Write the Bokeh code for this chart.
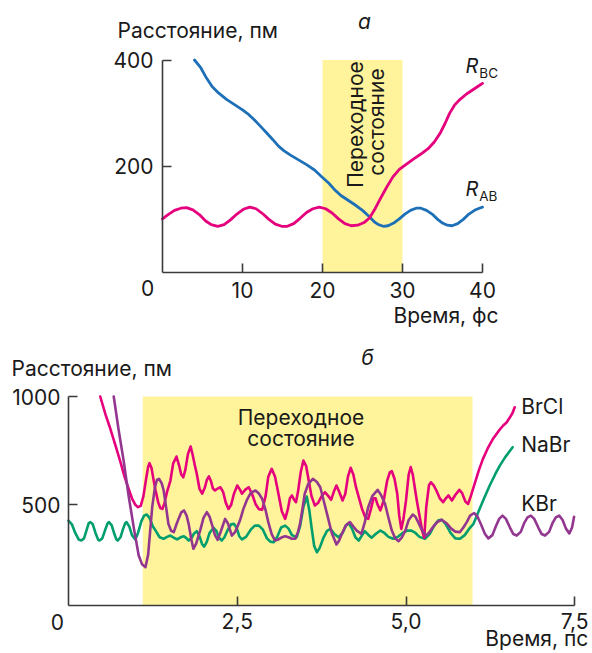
from math import pi
from bokeh.plotting import figure
from bokeh.models import Range1d, FixedTicker, Label, LinearAxis
from bokeh.embed import file_html
from bokeh.resources import INLINE

FONT = "Inter"
FS = "21px"

# ---------------- Panel a (fs, pm) ----------------
a_xticks = [10, 20, 30, 40]
a_yticks = [200, 400]
a_band = [20, 30]

rab_t = [4.0, 4.8, 5.5, 6.2, 7.0, 8.0, 9.0, 10.0, 10.8, 11.5, 12.2, 13.0, 13.8, 14.5, 15.2, 16.0,
         17.0, 18.0, 19.0, 20.0, 20.8, 21.5, 22.3, 23.2, 24.0, 25.0, 25.8, 26.5, 27.0, 27.6, 28.2,
         28.9, 29.6, 30.3, 31.0, 31.7, 32.3, 33.0, 33.7, 34.4, 35.0, 35.6, 36.2, 36.9, 37.6, 38.3,
         39.0, 39.6, 40.0]
rab_v = [400, 385, 366, 350, 338, 326, 316, 306, 297, 287, 276, 263, 250, 238, 229, 221,
         212, 203, 193, 179, 168, 156, 145, 136, 128, 117, 106, 95, 90, 87, 88,
         93, 101, 110, 117, 121, 121, 117, 110, 100, 93, 89, 88, 92, 100, 110,
         117, 121, 123]

rbc_t = [0.0, 0.7, 1.5, 2.3, 3.0, 3.8, 4.6, 5.4, 6.1, 6.9, 7.7, 8.5, 9.3, 10.1, 10.9, 11.7,
         12.5, 13.3, 14.1, 14.9, 15.6, 16.4, 17.2, 18.0, 18.8, 19.6, 20.4, 21.2, 22.0, 22.8,
         23.6, 24.4, 25.2, 25.9, 26.5, 27.2, 28.0, 28.8, 29.6, 30.5, 31.4, 32.3, 33.2, 34.0,
         34.7, 35.3, 35.9, 36.5, 37.2, 38.0, 38.8, 39.5, 40.0]
rbc_v = [101, 109, 117, 121, 122, 118, 109, 97, 90, 87, 90, 99, 110, 119, 123, 120,
         111, 100, 91, 87, 87, 92, 102, 113, 120, 123, 120, 112, 101, 92,
         88, 89, 94, 103, 118, 138, 160, 180, 194, 204, 214, 223, 233, 246,
         262, 280, 300, 315, 326, 336, 344, 351, 356]

# ---------------- Panel b (ps, pm) ----------------
b_xticks = [2.5, 5.0, 7.5]
b_xlabels = ["2,5", "5,0", "7,5"]
b_yticks = [500, 1000]
b_band = [1.1, 5.985]
b_ymin = 35

brcl_t = [0.47, 0.55, 0.62, 0.70, 0.77, 0.83, 0.89, 0.94, 0.99, 1.03, 1.07, 1.11, 1.15, 1.18, 1.20,
          1.23, 1.26, 1.29, 1.33, 1.36, 1.39, 1.42, 1.46, 1.51, 1.55, 1.60, 1.64, 1.67, 1.70, 1.73,
          1.77, 1.81, 1.84, 1.87, 1.90, 1.94, 1.98, 2.02, 2.05, 2.08, 2.11, 2.14, 2.17, 2.21, 2.25,
          2.29, 2.33, 2.37, 2.41, 2.45, 2.50, 2.54, 2.57, 2.62, 2.67, 2.72, 2.77, 2.82, 2.87, 2.92,
          2.96, 3.01, 3.06, 3.11, 3.16, 3.21, 3.25, 3.28, 3.31, 3.34, 3.37, 3.40, 3.44, 3.48, 3.52,
          3.56, 3.60, 3.65, 3.70, 3.75, 3.80, 3.85, 3.89, 3.93, 3.97, 4.01, 4.06, 4.10, 4.14, 4.18,
          4.22, 4.26, 4.30, 4.35, 4.40, 4.44, 4.48, 4.52, 4.55, 4.58, 4.62, 4.67, 4.72, 4.76, 4.79,
          4.83, 4.87, 4.90, 4.93, 4.96, 5.00, 5.04, 5.07, 5.10, 5.13, 5.16, 5.20, 5.24, 5.27, 5.30,
          5.34, 5.37, 5.41, 5.45, 5.50, 5.55, 5.59, 5.63, 5.68, 5.73, 5.79, 5.83, 5.88, 5.92, 5.96,
          6.02, 6.08, 6.14, 6.21, 6.29, 6.37, 6.44, 6.49, 6.54, 6.58, 6.61]
brcl_v = [1000, 915, 851, 770, 697, 630, 574, 530, 500, 489, 495, 540, 620, 675, 692,
          670, 615, 566, 510, 485, 481, 505, 560, 612, 690, 723, 680, 640, 627, 660,
          735, 769, 730, 685, 643, 575, 551, 580, 615, 631, 610, 575, 566, 575, 581,
          560, 510, 481, 500, 550, 589, 570, 551, 570, 581, 550, 504, 480, 477, 540,
          630, 666, 630, 551, 470, 435, 480, 530, 543, 525, 512, 560, 650, 704, 680,
          610, 540, 497, 510, 540, 558, 540, 523, 560, 589, 560, 520, 550, 630, 671,
          640, 580, 535, 480, 440, 435, 480, 530, 530, 500, 474, 520, 610, 650, 655,
          620, 551, 450, 389, 430, 520, 640, 674, 640, 580, 520, 450, 380, 348, 489,
          590, 604, 590, 566, 530, 512, 530, 543, 520, 545, 569, 555, 515, 504, 540,
          600, 660, 712, 760, 805, 840, 866, 880, 904, 925, 950]

nabr_t = [0.00, 0.05, 0.10, 0.15, 0.19, 0.23, 0.27, 0.30, 0.325, 0.36, 0.40, 0.44, 0.46, 0.50, 0.55,
          0.58, 0.60, 0.64, 0.68, 0.71, 0.73, 0.77, 0.81, 0.84, 0.86, 0.90, 0.94, 0.99, 1.03, 1.08,
          1.12, 1.16, 1.20, 1.25, 1.29, 1.35, 1.41, 1.46, 1.51, 1.56, 1.61, 1.66, 1.71, 1.75, 1.78,
          1.82, 1.86, 1.90, 1.94, 1.98, 2.01, 2.05, 2.09, 2.15, 2.19, 2.23, 2.27, 2.31, 2.36, 2.41,
          2.45, 2.49, 2.53, 2.57, 2.63, 2.70, 2.76, 2.82, 2.88, 2.94, 2.99, 3.04, 3.09, 3.15, 3.21,
          3.26, 3.31, 3.38, 3.43, 3.48, 3.53, 3.57, 3.60, 3.64, 3.68, 3.72, 3.78, 3.83, 3.88, 3.94,
          4.00, 4.06, 4.11, 4.15, 4.20, 4.25, 4.30, 4.35, 4.39, 4.44, 4.49, 4.55, 4.62, 4.68, 4.74,
          4.81, 4.88, 4.96, 5.02, 5.08, 5.14, 5.20, 5.28, 5.35, 5.42, 5.48, 5.53, 5.59, 5.66, 5.73,
          5.80, 5.87, 5.95, 6.00, 6.09, 6.17, 6.24, 6.32, 6.39, 6.47, 6.53, 6.58]
nabr_v = [427, 410, 370, 340, 335, 345, 385, 415, 420, 410, 370, 338, 335, 345, 390,
          415, 420, 405, 365, 340, 335, 350, 390, 415, 420, 400, 360, 340, 370, 425,
          450, 455, 440, 400, 381, 350, 343, 352, 358, 348, 340, 350, 355, 345, 335,
          345, 368, 378, 355, 318, 307, 330, 370, 394, 380, 348, 335, 350, 385, 410,
          412, 395, 355, 340, 352, 385, 404, 404, 385, 345, 330, 327, 350, 395, 404,
          390, 360, 350, 400, 490, 538, 470, 397, 310, 281, 300, 350, 380, 389, 365,
          350, 370, 405, 415, 390, 350, 335, 360, 378, 362, 348, 365, 381, 370, 352,
          343, 352, 372, 381, 381, 370, 352, 343, 365, 405, 428, 431, 410, 370, 345,
          343, 360, 395, 412, 481, 540, 589, 640, 681, 720, 745, 766]

kbr_t = [0.67, 0.74, 0.82, 0.89, 0.97, 1.04, 1.09, 1.14, 1.18, 1.21, 1.24, 1.28, 1.31, 1.34, 1.38,
         1.41, 1.45, 1.48, 1.52, 1.56, 1.60, 1.63, 1.67, 1.71, 1.75, 1.78, 1.82, 1.85, 1.89, 1.95,
         2.00, 2.05, 2.09, 2.13, 2.17, 2.21, 2.26, 2.32, 2.36, 2.42, 2.47, 2.54, 2.59, 2.64, 2.70,
         2.77, 2.82, 2.87, 2.92, 2.96, 3.01, 3.06, 3.11, 3.16, 3.21, 3.26, 3.31, 3.36, 3.40, 3.43,
         3.47, 3.50, 3.55, 3.62, 3.68, 3.73, 3.78, 3.83, 3.90, 3.97, 4.01, 4.05, 4.11, 4.17, 4.22,
         4.27, 4.34, 4.39, 4.44, 4.50, 4.58, 4.63, 4.69, 4.74, 4.79, 4.84, 4.89, 4.94, 4.99, 5.04,
         5.10, 5.14, 5.18, 5.24, 5.30, 5.35, 5.40, 5.46, 5.53, 5.60, 5.67, 5.73, 5.80, 5.85, 5.90,
         5.95, 6.01, 6.06, 6.11, 6.17, 6.22, 6.28, 6.33, 6.38, 6.43, 6.48, 6.54, 6.59, 6.64, 6.70,
         6.75, 6.80, 6.85, 6.90, 6.96, 7.01, 7.06, 7.12, 7.17, 7.22, 7.27, 7.32, 7.37, 7.42, 7.46,
         7.49]
kbr_v = [1000, 851, 697, 543, 389, 266, 225, 212, 270, 380, 489, 580, 615, 620, 600,
         566, 480, 412, 380, 374, 410, 435, 465, 474, 450, 412, 340, 297, 320, 381,
         440, 466, 445, 404, 360, 338, 380, 435, 415, 358, 375, 427, 480, 520, 555,
         566, 552, 527, 475, 420, 365, 335, 340, 350, 355, 350, 343, 343, 375, 412,
         490, 551, 595, 620, 605, 581, 520, 458, 370, 317, 335, 366, 405, 420, 400,
         381, 366, 420, 489, 540, 569, 545, 504, 440, 381, 345, 332, 350, 381, 430,
         455, 445, 420, 380, 358, 375, 397, 420, 431, 415, 390, 376, 374, 395, 420,
         450, 462, 445, 410, 365, 345, 360, 400, 435, 450, 435, 395, 365, 358, 375,
         415, 442, 450, 435, 395, 365, 358, 375, 415, 442, 450, 430, 390, 368, 395,
         445]

# ---------------- styles ----------------
YELLOW = "#fff49b"
PINK = "#e5007d"
BLUE = "#1d70b7"
GREEN = "#009e6e"
PURPLE = "#93368f"
AXIS = "#3a3a3a"
TXT = "#1a1a1a"

W, H = 592, 653
p = figure(width=W, height=H, x_range=Range1d(0, 1), y_range=Range1d(0, 1),
           x_axis_location=None, y_axis_location=None,
           output_backend="svg", toolbar_location=None,
           min_border_left=0, min_border_right=0, min_border_top=0, min_border_bottom=0)
p.outline_line_color = None
p.xgrid.visible = False
p.ygrid.visible = False
p.background_fill_color = "white"
p.border_fill_color = "white"

# panel a layout: t=0 at x=162, 8 px per fs; v=0 at y=272, 0.53125 px per pm
ax0, axs = 162.0, 8.0
ay0, ays = 272.0, 0.53125
# panel b layout: t=0 at x=68, 67.5 px per ps; v=1000 at y=396, 0.2166 px per pm
bx0, bxs = 68.0, 67.5
by1000, bys = 396.0, 0.2166

p.extra_x_ranges = {
    "ax": Range1d((0 - ax0) / axs, (W - ax0) / axs),
    "bx": Range1d((0 - bx0) / bxs, (W - bx0) / bxs),
}
p.extra_y_ranges = {
    "ay": Range1d((ay0 - H) / ays, ay0 / ays),
    "by": Range1d(1000 - (H - by1000) / bys, 1000 + by1000 / bys),
}


def axis(xr, yr, loc, bounds, ticks, side, standoff, overrides=None):
    a = LinearAxis(x_range_name=xr, y_range_name=yr, fixed_location=loc, bounds=bounds,
                   ticker=FixedTicker(ticks=ticks))
    if overrides:
        a.major_label_overrides = overrides
    a.axis_line_color = AXIS
    a.axis_line_width = 1.6
    a.major_tick_line_color = AXIS
    a.major_tick_line_width = 1.6
    a.major_tick_in = 9
    a.major_tick_out = 0
    a.minor_tick_in = 0
    a.minor_tick_out = 0
    a.major_label_text_font = FONT
    a.major_label_text_font_size = FS
    a.major_label_text_color = TXT
    a.major_label_standoff = standoff
    p.add_layout(a, side)


def lab(xr, yr, x, y, text, size=FS, align="left", style_="normal", angle=0):
    p.add_layout(Label(x=x, y=y, x_range_name=xr, y_range_name=yr, text=text,
                       text_font=FONT, text_font_size=size, text_color=TXT,
                       text_align=align, text_baseline="middle",
                       text_font_style=style_, angle=angle))


# ---------------- panel a ----------------
p.quad(left=[a_band[0]], right=[a_band[1]], bottom=[0], top=[a_yticks[-1]],
       fill_color=YELLOW, line_color=None, x_range_name="ax", y_range_name="ay")
p.line(rab_t, rab_v, line_color=BLUE, line_width=2.8, line_join="round", line_cap="round",
       x_range_name="ax", y_range_name="ay")
p.line(rbc_t, rbc_v, line_color=PINK, line_width=2.8, line_join="round", line_cap="round",
       x_range_name="ax", y_range_name="ay")
axis("ax", "ay", 0, (0, a_xticks[-1]), a_xticks, "below", 9)
axis("ax", "ay", 0, (0, a_yticks[-1]), a_yticks, "left", 9)

lab("ax", "ay", -5.625, 455.0, "Расстояние, пм")
lab("ax", "ay", 25.25, 472.5, "а", align="center", style_="italic")
lab("ax", "ay", -1.875, -30.1, "0", align="center")
lab("ax", "ay", 42.0, -80.5, "Время, фс", align="right")
lab("ax", "ay", 24.1, 278.6, "Переходное", align="center", angle=pi / 2)
lab("ax", "ay", 26.8, 283.3, "состояние", align="center", angle=pi / 2)
lab("ax", "ay", 37.875, 389.6, "R", size="20px", style_="italic")
lab("ax", "ay", 39.6, 375.0, "BC", size="13.5px")
lab("ax", "ay", 37.875, 157.5, "R", size="20px", style_="italic")
lab("ax", "ay", 39.6, 143.4, "AB", size="13.5px")

# ---------------- panel b ----------------
p.quad(left=[b_band[0]], right=[b_band[1]], bottom=[b_ymin], top=[b_yticks[-1]],
       fill_color=YELLOW, line_color=None, x_range_name="bx", y_range_name="by")
p.line(nabr_t, nabr_v, line_color=GREEN, line_width=2.6, line_join="round", line_cap="round",
       x_range_name="bx", y_range_name="by")
p.line(brcl_t, brcl_v, line_color=PINK, line_width=2.6, line_join="round", line_cap="round",
       x_range_name="bx", y_range_name="by")
p.line(kbr_t, kbr_v, line_color=PURPLE, line_width=2.6, line_join="round", line_cap="round",
       x_range_name="bx", y_range_name="by")
axis("bx", "by", b_ymin, (0, b_xticks[-1]), b_xticks, "below", 7,
     {t: l for t, l in zip(b_xticks, b_xlabels)})
axis("bx", "by", 0, (b_ymin, b_yticks[-1]), b_yticks, "left", 8)

lab("bx", "by", -0.8444, 1127.0, "Расстояние, пм")
lab("bx", "by", 4.430, 1180.1, "б", align="center", style_="italic")
lab("bx", "by", -0.163, -38.8, "0", align="center")
lab("bx", "by", 7.70, -117.0, "Время, пс", align="right")
lab("bx", "by", 3.444, 903.0, "Переходное", align="center")
lab("bx", "by", 3.444, 806.1, "состояние", align="center")
lab("bx", "by", 6.707, 954.8, "BrCl")
lab("bx", "by", 6.707, 776.1, "NaBr")
lab("bx", "by", 6.707, 508.3, "KBr")

open("out.html", "w").write(file_html(p, INLINE))
